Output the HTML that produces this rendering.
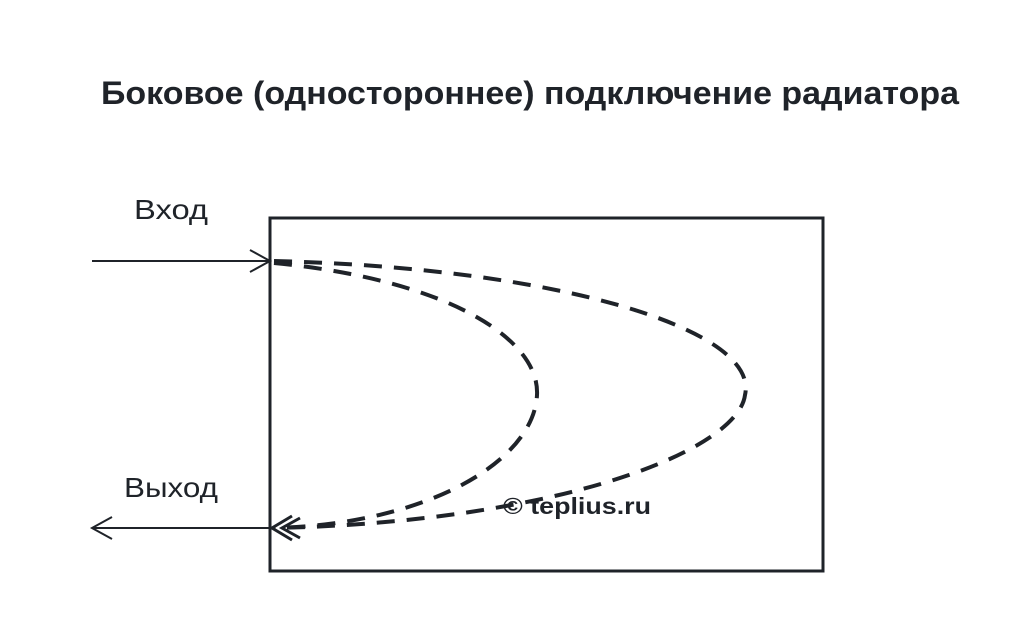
<!DOCTYPE html>
<html><head><meta charset="utf-8"><style>
html,body{margin:0;padding:0;background:#fff;}
svg{display:block;}
</style></head><body>
<svg width="1024" height="639" viewBox="0 0 1024 639" xmlns="http://www.w3.org/2000/svg">
<text x="530" y="104" text-anchor="middle" font-family="Liberation Sans, sans-serif" font-weight="bold" font-size="32" fill="#1f2329" textLength="858" lengthAdjust="spacingAndGlyphs">Боковое (одностороннее) подключение радиатора</text>
<rect x="270" y="218" width="553" height="353" fill="none" stroke="#1f2329" stroke-width="3"/>
<g stroke="#1f2329" stroke-width="2" fill="none">
<line x1="92" y1="261" x2="270" y2="261"/>
<polyline points="250,250 270,261 250,272"/>
<line x1="92" y1="528" x2="270" y2="528"/>
<polyline points="112,517 92,528 112,539"/>
<polyline points="292,516 272,528 292,540" stroke-width="3"/>
<polyline points="300,518 282,528 300,538" stroke-width="3"/>
</g>
<g stroke="#1f2329" stroke-width="4" fill="none" stroke-dasharray="18 12">
<path d="M274,261 C 560,268 760,330 745,395 C 738,450 560,522 274,528"/>
<path d="M274,263 C 450,280 540,340 537,395 C 534,460 430,524 274,528"/>
</g>
<text x="134" y="219" font-family="Liberation Sans, sans-serif" font-size="28" fill="#1f2329" textLength="74" lengthAdjust="spacingAndGlyphs">Вход</text>
<text x="124" y="497" font-family="Liberation Sans, sans-serif" font-size="28" fill="#1f2329" textLength="94" lengthAdjust="spacingAndGlyphs">Выход</text>
<text x="503" y="514" font-family="Liberation Sans, sans-serif" font-weight="bold" font-size="23" fill="#1f2329" textLength="148" lengthAdjust="spacingAndGlyphs">© teplius.ru</text>
</svg>
</body></html>
